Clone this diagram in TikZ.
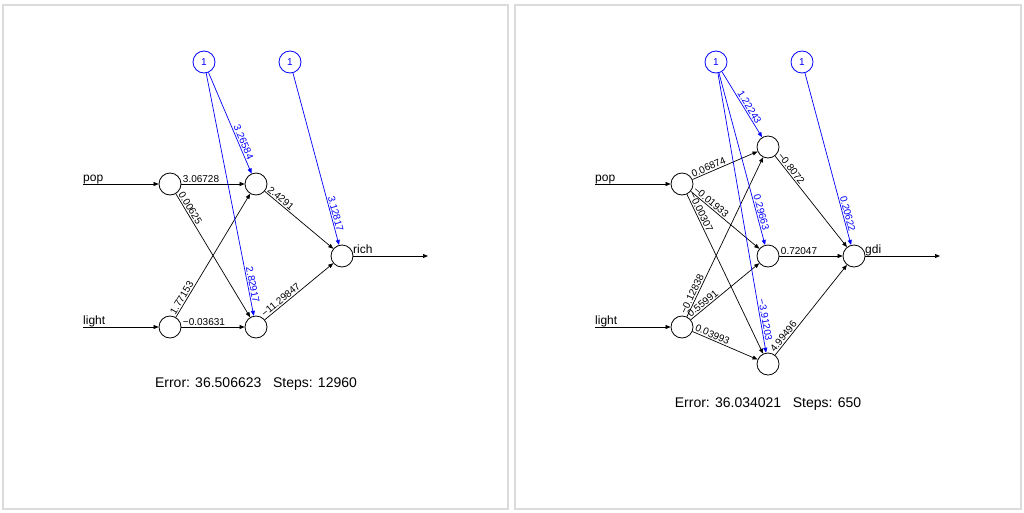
\documentclass[tikz,border=0pt]{standalone}
\usepackage{fontspec}
\setmainfont{Liberation Sans}
\usetikzlibrary{arrows.meta,calc}
\begin{document}
\begin{tikzpicture}[x=1pt,y=-1pt,
  neuron/.style={circle,draw=black,line width=0.8pt,minimum size=22pt,inner sep=0pt},
  biasn/.style={neuron,draw=blue,text=blue,font=\fontsize{10}{12}\selectfont},
  edge/.style={draw=black,line width=0.7pt,-{Triangle[length=5pt,width=4pt]}},
  bedge/.style={draw=blue,line width=0.7pt,-{Triangle[length=5pt,width=4pt]}},
  wlab/.style={font=\fontsize{10}{12}\selectfont,inner sep=1.2pt,sloped,anchor=south west,pos=0},
  blab/.style={font=\fontsize{10}{12}\selectfont,inner sep=1.2pt,sloped,anchor=south east,text=blue},
  iolab/.style={font=\fontsize{12}{14}\selectfont,inner sep=0pt,anchor=base west},
  info/.style={font=\fontsize{14}{16}\selectfont,inner sep=0pt,anchor=base},
  panel/.style={draw=black!14,line width=2pt}]

\useasboundingbox (0,0) rectangle (1024,512);
\fill[white] (0,0) rectangle (1024,512);
\draw[panel] (3,4.5) rectangle (508,509);
\draw[panel] (514.5,4.5) rectangle (1021,509);

% ---------------- left network ----------------
\node[biasn] (lb1) at (204,62) {1};
\node[biasn] (lb2) at (290,62) {1};
\node[neuron] (li1) at (170,184) {};
\node[neuron] (li2) at (170,327) {};
\node[neuron] (lh1) at (256,184) {};
\node[neuron] (lh2) at (256,327) {};
\node[neuron] (lo) at (342,256) {};
\coordinate (lin1) at (83,184);
\coordinate (lin2) at (83,327);
\coordinate (lout) at (428,256);

\draw[edge] (lin1) -- (li1);
\draw[edge] (lin2) -- (li2);
\draw[edge] (lo) -- (lout);
\node[iolab] (lpop) at (83,181.5) {pop};
\node[iolab] (llight) at (83,324.5) {light};
\node[iolab] (lrich) at (353,253.5) {rich};

\draw[edge] (li1) -- (lh1) node[wlab] (lw1) {3.06728};
\draw[edge] (li1) -- (lh2) node[wlab] (lw2) {0.00625};
\draw[edge] (li2) -- (lh1) node[wlab] (lw3) {1.77153};
\draw[edge] (li2) -- (lh2) node[wlab] (lw4) {−0.03631};
\draw[edge] (lh1) -- (lo) node[wlab] (lw5) {2.4291};
\draw[edge] (lh2) -- (lo) node[wlab] (lw6) {−11.29847};

\draw[bedge] (lb1) -- (lh1);
\draw[bedge] (lb1) -- (lh2);
\draw[bedge] (lb2) -- (lo);
\path (lb1.center) -- (lh1.center) node[blab,pos=0.82] (lbw1) {3.26584};
\path (lb1.center) -- (lh2.center) node[blab,pos=0.917] (lbw2) {2.82917};
\path (lb2.center) -- (lo.center) node[blab,pos=0.885] (lbw3) {3.12817};

\node[info] (lerr) at (256,387.3) {Error: 36.506623\hspace{11.7pt}Steps: 12960};

% ---------------- right network ----------------
\node[biasn] (rb1) at (716,62) {1};
\node[biasn] (rb2) at (802,62) {1};
\node[neuron] (ri1) at (682,184) {};
\node[neuron] (ri2) at (682,327) {};
\node[neuron] (rh1) at (768,147) {};
\node[neuron] (rh2) at (768,256) {};
\node[neuron] (rh3) at (768,364) {};
\node[neuron] (ro) at (854,256) {};
\coordinate (rin1) at (595,184);
\coordinate (rin2) at (595,327);
\coordinate (rout) at (940,256);

\draw[edge] (rin1) -- (ri1);
\draw[edge] (rin2) -- (ri2);
\draw[edge] (ro) -- (rout);
\node[iolab] (rpop) at (595,181.5) {pop};
\node[iolab] (rlight) at (595,324.5) {light};
\node[iolab] (rgdi) at (865,253.5) {gdi};

\draw[edge] (ri1) -- (rh1) node[wlab] (rw1) {0.06874};
\draw[edge] (ri1) -- (rh2) node[wlab] (rw2) {−0.01933};
\draw[edge] (ri1) -- (rh3) node[wlab] (rw3) {−0.00307};
\draw[edge] (ri2) -- (rh1) node[wlab] (rw4) {−0.12838};
\draw[edge] (ri2) -- (rh2) node[wlab] (rw5) {0.55991};
\draw[edge] (ri2) -- (rh3) node[wlab] (rw6) {0.03993};
\draw[edge] (rh1) -- (ro) node[wlab] (rw7) {−0.8072};
\draw[edge] (rh2) -- (ro) node[wlab] (rw8) {0.72047};
\draw[edge] (rh3) -- (ro) node[wlab] (rw9) {4.99496};

\draw[bedge] (rb1) -- (rh1);
\draw[bedge] (rb1) -- (rh2);
\draw[bedge] (rb1) -- (rh3);
\draw[bedge] (rb2) -- (ro);
\path (rb1.center) -- (rh1.center) node[blab,pos=0.76] (rbw1) {1.22243};
\path (rb1.center) -- (rh2.center) node[blab,pos=0.878] (rbw2) {0.29663};
\path (rb1.center) -- (rh3.center) node[blab,pos=0.93] (rbw3) {−3.91203};
\path (rb2.center) -- (ro.center) node[blab,pos=0.885] (rbw4) {0.20622};

\node[info] (rerr) at (768,407.3) {Error: 36.034021\hspace{11.7pt}Steps: 650};
\end{tikzpicture}
\end{document}
